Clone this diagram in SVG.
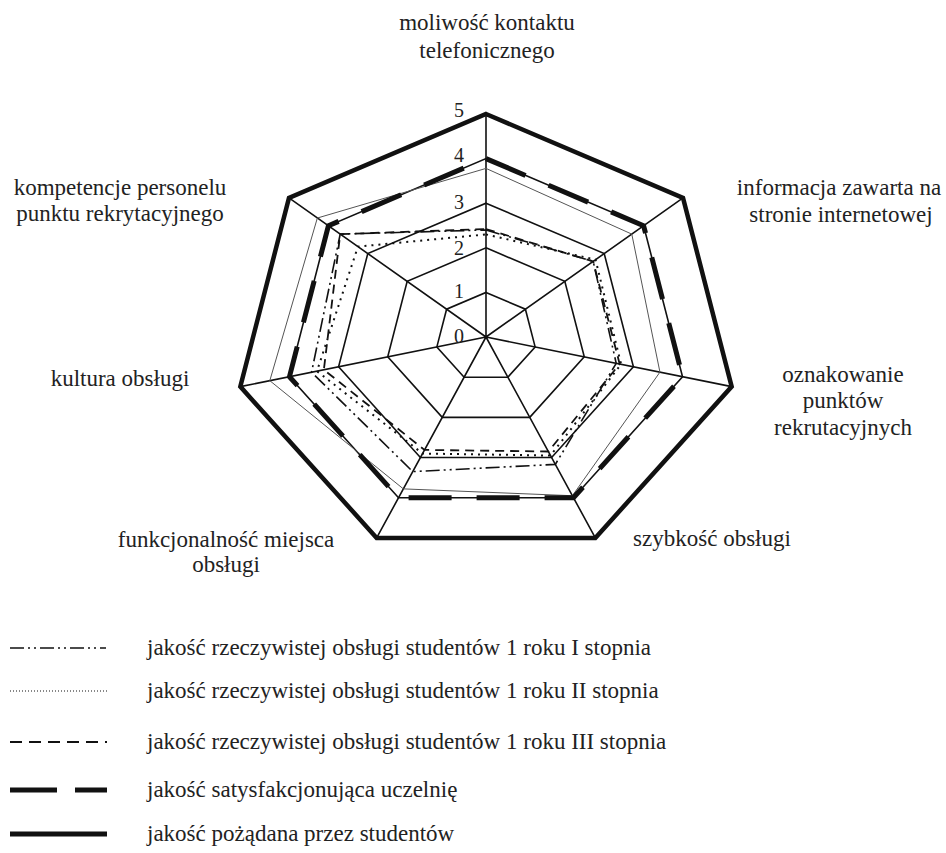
<svg xmlns="http://www.w3.org/2000/svg" width="946" height="853" viewBox="0 0 946 853">
<style>
text{font-family:"Liberation Serif","Times New Roman",serif;fill:#222;}
.lbl{font-size:23px;text-anchor:middle;}
.tick{font-size:20px;text-anchor:middle;}
.leg{font-size:23px;}
.grid{fill:none;stroke:#111;stroke-width:1.6;}
.s1{fill:none;stroke:#111;stroke-width:1.6;stroke-dasharray:14 4 2 4 2 4;}
.s2{fill:none;stroke:#111;stroke-width:2;stroke-dasharray:2 5;}
.s3{fill:none;stroke:#111;stroke-width:1.8;stroke-dasharray:9 6;}
.thin{fill:none;stroke:#555;stroke-width:1;}
.sat{fill:none;stroke:#111;stroke-width:5;stroke-dasharray:43 25;}
.poz{fill:none;stroke:#111;stroke-width:4.5;stroke-linejoin:miter;}
</style>
<g id="grid">
<polygon class="grid" points="486,292.4 525.4,309.19 535.14,346.92 507.87,377.18 464.13,377.18 436.86,346.92 446.6,309.19"/>
<polygon class="grid" points="486,247.8 564.81,281.38 584.27,356.85 529.74,417.37 442.26,417.37 387.73,356.85 407.19,281.38"/>
<polygon class="grid" points="486,203.2 604.21,253.58 633.41,366.77 551.6,457.55 420.4,457.55 338.59,366.77 367.79,253.58"/>
<polygon class="grid" points="486,158.6 643.62,225.77 682.54,376.7 573.47,497.73 398.53,497.73 289.46,376.7 328.38,225.77"/>
<path class="grid" d="M486,337L486,114M486,337L683.02,197.96M486,337L731.68,386.62M486,337L595.34,537.92M486,337L376.66,537.92M486,337L240.32,386.62M486,337L288.98,197.96"/>
</g>
<g id="ticks">
<text class="tick" x="459" y="342.5">0</text>
<text class="tick" x="459" y="297.5">1</text>
<text class="tick" x="459" y="254.5">2</text>
<text class="tick" x="459" y="208.5">3</text>
<text class="tick" x="459" y="162">4</text>
<text class="tick" x="459" y="117">5</text>
</g>
<g id="series">
<polygon id="thin-series" class="thin" points="486,168.4 631.79,234.11 659.94,372.13 572.38,495.72 403.34,488.89 269.8,380.67 317.35,218.02"/>
<polygon id="s1" class="s1" points="486,229.96 593.18,261.36 616.21,363.3 555.32,464.38 412.74,471.61 311.57,372.23 340.21,234.11"/>
<polygon id="s2" class="s2" points="486,234.42 595.54,259.69 621.12,364.29 550.51,455.54 422.58,453.53 316.97,371.14 357.94,246.62"/>
<polygon id="s3" class="s3" points="486,229.07 593.18,261.36 619.65,363.99 548.32,451.52 424.55,449.91 323.85,369.75 340.21,234.11"/>
<polygon id="sat" class="sat" points="486,158.6 643.62,225.77 682.54,376.7 573.47,497.73 398.53,497.73 289.46,376.7 328.38,225.77"/>
<polygon id="poz" class="poz" points="486,114 683.02,197.96 731.68,386.62 595.34,537.92 376.66,537.92 240.32,386.62 288.98,197.96"/>
</g>
<g id="axis-labels">
<g id="lbl-0"><text class="lbl" x="487" y="30">moliwość kontaktu</text><text class="lbl" x="487" y="58">telefonicznego</text></g>
<g id="lbl-1"><text class="lbl" x="839" y="195">informacja zawarta na</text><text class="lbl" x="841" y="222">stronie internetowej</text></g>
<g id="lbl-2"><text class="lbl" x="843" y="382">oznakowanie</text><text class="lbl" x="843" y="408">punktów</text><text class="lbl" x="843" y="435">rekrutacyjnych</text></g>
<g id="lbl-3"><text class="lbl" x="712" y="546">szybkość obsługi</text></g>
<g id="lbl-4"><text class="lbl" x="226" y="547">funkcjonalność miejsca</text><text class="lbl" x="226" y="572">obsługi</text></g>
<g id="lbl-5"><text class="lbl" x="120" y="386">kultura obsługi</text></g>
<g id="lbl-6"><text class="lbl" x="120" y="195">kompetencje personelu</text><text class="lbl" x="120" y="221">punktu rekrytacyjnego</text></g>
</g>
<g id="legend">
<g id="leg-1"><line class="s1" x1="10" y1="648" x2="106" y2="648"/><text class="leg" x="147" y="655">jakość rzeczywistej obsługi studentów 1 roku I stopnia</text></g>
<g id="leg-2"><line x1="10" y1="691" x2="107" y2="691" stroke="#111" stroke-width="1.2" stroke-dasharray="1 2"/><text class="leg" x="147" y="698">jakość rzeczywistej obsługi studentów 1 roku II stopnia</text></g>
<g id="leg-3"><line class="s3" x1="10" y1="742" x2="107" y2="742" style="stroke-dasharray:12 7"/><text class="leg" x="147" y="749">jakość rzeczywistej obsługi studentów 1 roku III stopnia</text></g>
<g id="leg-4"><line x1="10" y1="790" x2="107" y2="790" stroke="#111" stroke-width="5" stroke-dasharray="47 18"/><text class="leg" x="147" y="797">jakość satysfakcjonująca uczelnię</text></g>
<g id="leg-5"><line x1="10" y1="834" x2="107" y2="834" stroke="#111" stroke-width="5"/><text class="leg" x="147" y="841">jakość pożądana przez studentów</text></g>
</g>
</svg>
